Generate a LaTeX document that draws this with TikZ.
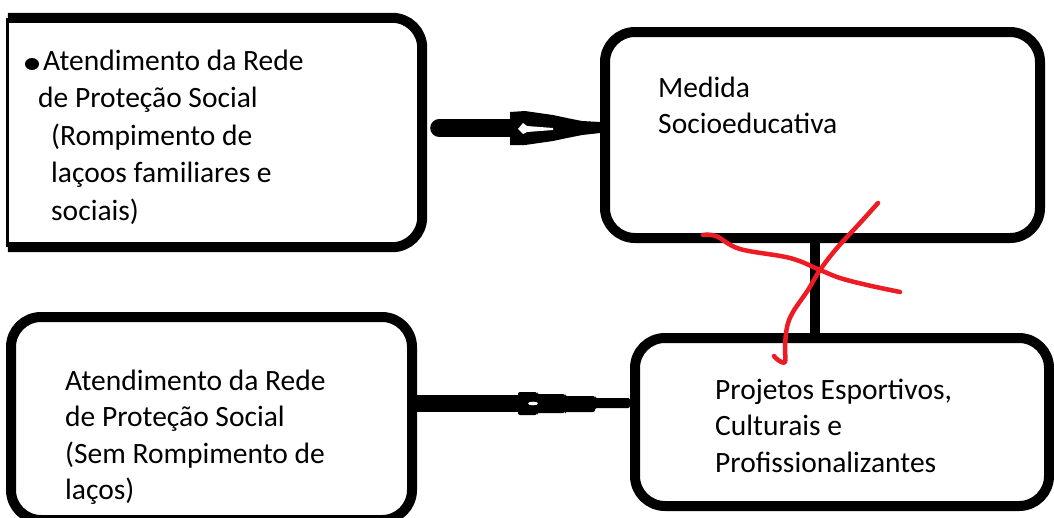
\documentclass[tikz,border=0pt]{standalone}
\usepackage{fontspec}
\setmainfont{Carlito}
\usetikzlibrary{calc}
\begin{document}
\begin{tikzpicture}[x=1pt,y=-1pt,
  box/.style={draw=black, line width=10pt, rounded corners=30pt, inner sep=0pt},
  txt/.style={anchor=base west, align=left, inner sep=0pt, text=black,
    font=\fontsize{29.5}{36.5}\selectfont},
  shaft/.style={line width=18pt},
  redline/.style={draw={rgb,255:red,237;green,28;blue,36}, line width=4.5pt, line cap=round, line join=round}]
\useasboundingbox (0,0) rectangle (1054,517);
\fill[white] (0,0) rectangle (1054,517);
\clip (0,0) rectangle (1054,517);

% boxes
\node[inner sep=0pt, minimum width=414pt, minimum height=229pt] (A) at (215,132.5) {};
\draw[line width=10pt, rounded corners=30pt] (A.north west) -- (A.north east) -- (A.south east) -- (A.south west);
\draw[line width=3pt] (A.north west) -- (A.south west);
\node[box, minimum width=435pt, minimum height=206pt] (B) at (822.5,135) {};
\node[box, minimum width=401pt, minimum height=203pt] (C) at (211.5,418.5) {};
\node[box, minimum width=414pt, minimum height=168pt] (D) at (842,422) {};

% texts (anchored at the baseline of the last line)
\fill (32,64) ellipse [x radius=7pt, y radius=6pt];
\node[txt, font=\fontsize{29.5}{37.5}\selectfont] (tA) at (38,220) {\hspace*{5pt}Atendimento da Rede\\de Proteção Social\\\hspace*{13pt}(Rompimento de\\\hspace*{13pt}laçoos familiares e\\\hspace*{13pt}sociais)};
\node[txt] (tB) at (658,133.5) {Medida\\Socioeducativa};
\node[txt] (tC) at (65,499.5) {Atendimento da Rede\\de Proteção Social\\(Sem Rompimento de\\laços)};
\node[txt] (tD) at (715,472) {Projetos Esportivos,\\Culturais e\\Profissionalizantes};

% arrow A -> B
\coordinate (a1) at (512,128);
\draw[shaft, line cap=round] ([xshift=17pt]A.east |- a1) -- (a1);
\fill (510,112) -- (525,111) -- (553,115) -- (567,118) -- (582,121) -- (B.west |- 0,122) -- (B.west |- 0,133) -- (582,135) -- (567,138) -- (553,141) -- (525,145) -- (510,145) -- cycle;
\fill[white] (518,129) -- (523,123) -- (527,126) -- (553,128) -- (553,130) -- (527,132) -- (523,134) -- cycle;

% arrow C -> D
\coordinate (a2) at (519,403.5);
\draw[line width=17pt] (C.east |- a2) -- (a2);
\fill[rounded corners=2pt] (518,392) -- (537,392) -- (537,394) -- (565,394) -- (565,396) -- (595,396) -- (595,398) -- (D.west |- 0,398) -- (D.west |- 0,408) -- (595,408) -- (595,412) -- (565,412) -- (565,413) -- (537,413) -- (537,415) -- (518,415) -- cycle;
\fill[white] (533,403.5) ellipse [x radius=5pt, y radius=1.8pt];

% connector B -> D
\draw[line width=10pt, line cap=round] (B.south -| 815,0) -- ([yshift=-4pt]D.north -| 815,0);

% red cross
\draw[redline] plot[smooth, tension=0.6] coordinates {(703,235) (716,236) (740,249) (790,258) (820,270) (840,278) (867,285) (900,292)};
\draw[redline] plot[smooth, tension=0.6] coordinates {(878,203) (860,223) (837,248) (820,270) (808,290) (793,312) (787,327) (785,347) (785,362) (778,360) (774,356)};
\end{tikzpicture}
\end{document}
